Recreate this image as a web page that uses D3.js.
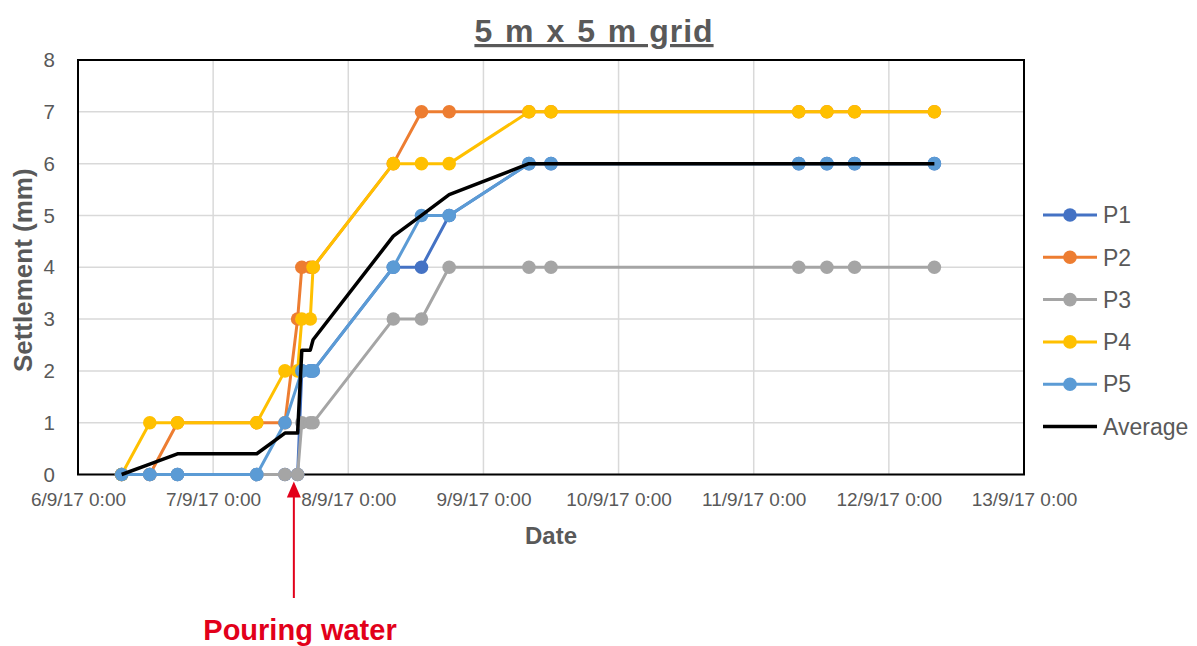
<!DOCTYPE html>
<html>
<head>
<meta charset="utf-8">
<script src="https://cdn.jsdelivr.net/npm/d3@7"></script>
<style>
  html, body { margin: 0; padding: 0; background: #fff; }
  svg { display: block; font-family: "Liberation Sans", Arial, sans-serif; }
</style>
</head>
<body>
<svg id="chart" width="1197" height="646"></svg>
<script>
// ---------- DATA ----------
const times = [
  "2017-09-06T07:45", "2017-09-06T12:45", "2017-09-06T17:40",
  "2017-09-07T07:45", "2017-09-07T12:45", "2017-09-07T15:00",
  "2017-09-07T15:45", "2017-09-07T17:15", "2017-09-07T17:45",
  "2017-09-08T08:00", "2017-09-08T13:00", "2017-09-08T17:55",
  "2017-09-09T08:05", "2017-09-09T12:00",
  "2017-09-11T08:00", "2017-09-11T13:00", "2017-09-11T17:55",
  "2017-09-12T08:05"
];
const P1 = [0, 0, 0, 0, 0, 0, 2, 2, 2, 4, 4, 5, 6, 6, 6, 6, 6, 6];
const P2 = [0, 0, 1, 1, 1, 3, 4, 4, 4, 6, 7, 7, 7, 7, 7, 7, 7, 7];
const P3 = [0, 0, 0, 0, 0, 0, 1, 1, 1, 3, 3, 4, 4, 4, 4, 4, 4, 4];
const P4 = [0, 1, 1, 1, 2, 2, 3, 3, 4, 6, 6, 6, 7, 7, 7, 7, 7, 7];
const P5 = [0, 0, 0, 0, 1, null, 2, 2, 2, 4, 5, 5, 6, 6, 6, 6, 6, 6];
const Average = [0, 0.2, 0.4, 0.4, 0.8, 0.8, 2.4, 2.4, 2.6, 4.6, 5.0, 5.4, 6, 6, 6, 6, 6, 6];

const seriesNames = ["P1", "P2", "P3", "P4", "P5", "Average"];
const xDomain = ["2017-09-06T00:00", "2017-09-13T00:00"];
const yTicks = [0, 1, 2, 3, 4, 5, 6, 7, 8];
const pouringTime = "2017-09-07T14:20";

const titleText = "5 m x 5 m grid";
const xTitle = "Date";
const yTitle = "Settlement (mm)";
const annotationText = "Pouring water";

// ---------- LAYOUT ----------
const colors = { P1: "#4472C4", P2: "#ED7D31", P3: "#A5A5A5", P4: "#FFC000", P5: "#5B9BD5", Average: "#000000" };
const plot = { left: 78, right: 1024, top: 60, bottom: 474.5 };
const textColor = "#595959";

const svg = d3.select("#chart");
const parse = d3.timeParse("%Y-%m-%dT%H:%M");
const tDates = times.map(parse);

const x = d3.scaleTime().domain(xDomain.map(parse)).range([plot.left, plot.right]);
const y = d3.scaleLinear().domain([0, 8]).range([plot.bottom, plot.top]);

// gridlines
const xTickDates = d3.timeDay.range(parse(xDomain[0]), d3.timeDay.offset(parse(xDomain[1]), 1));
svg.append("g").selectAll("line.h").data(yTicks).join("line")
  .attr("x1", plot.left).attr("x2", plot.right)
  .attr("y1", d => y(d)).attr("y2", d => y(d))
  .attr("stroke", "#D9D9D9").attr("stroke-width", 1.5);
svg.append("g").selectAll("line.v").data(xTickDates).join("line")
  .attr("x1", d => x(d)).attr("x2", d => x(d))
  .attr("y1", plot.top).attr("y2", plot.bottom)
  .attr("stroke", "#D9D9D9").attr("stroke-width", 1.5);

// axes (labels only, via d3 axis)
const fmt = d3.timeFormat("%-d/%-m/%y %-H:%M");
const xAxis = svg.append("g").attr("transform", `translate(0,${plot.bottom})`)
  .call(d3.axisBottom(x).tickValues(xTickDates).tickFormat(fmt).tickSize(0).tickPadding(0));
xAxis.select(".domain").remove();
xAxis.selectAll("text").attr("y", 31.5).attr("dy", 0)
  .attr("fill", textColor).style("font-size", "19px").style("font-family", "Liberation Sans, Arial, sans-serif");

const yAxis = svg.append("g").attr("transform", `translate(${plot.left},0)`)
  .call(d3.axisLeft(y).tickValues(yTicks).tickFormat(d3.format("d")).tickSize(0).tickPadding(23));
yAxis.select(".domain").remove();
yAxis.selectAll("text").attr("fill", textColor).style("font-size", "20.5px").style("font-family", "Liberation Sans, Arial, sans-serif");

// plot border
svg.append("rect").attr("x", plot.left).attr("y", plot.top)
  .attr("width", plot.right - plot.left).attr("height", plot.bottom - plot.top)
  .attr("fill", "none").attr("stroke", "#000").attr("stroke-width", 2);

// series
const seriesData = { P1, P2, P3, P4, P5, Average };
const line = d3.line().x(d => x(d.t)).y(d => y(d.v));
seriesNames.forEach(name => {
  const pts = seriesData[name].map((v, i) => ({ t: tDates[i], v })).filter(d => d.v !== null);
  const g = svg.append("g");
  g.append("path").datum(pts).attr("d", line)
    .attr("fill", "none").attr("stroke", colors[name])
    .attr("stroke-width", name === "Average" ? 3.5 : 3).attr("stroke-linejoin", "round");
  if (name !== "Average") {
    g.selectAll("circle").data(pts).join("circle")
      .attr("cx", d => x(d.t)).attr("cy", d => y(d.v)).attr("r", 6.8)
      .attr("fill", colors[name]);
  }
});

// legend
const legend = svg.append("g");
seriesNames.forEach((name, i) => {
  const ly = 215 + i * 42.3;
  legend.append("line").attr("x1", 1043).attr("x2", 1097).attr("y1", ly).attr("y2", ly)
    .attr("stroke", colors[name]).attr("stroke-width", name === "Average" ? 3.5 : 3);
  if (name !== "Average") {
    legend.append("circle").attr("cx", 1070).attr("cy", ly).attr("r", 6.8).attr("fill", colors[name]);
  }
  legend.append("text").attr("x", 1103).attr("y", ly).attr("dy", "0.36em")
    .attr("fill", textColor).style("font-size", "23px").text(name);
});

// titles
svg.append("text").attr("x", 594).attr("y", 42).attr("text-anchor", "middle")
  .attr("fill", textColor).style("font-size", "32px").style("font-weight", "bold")
  .style("text-decoration", "underline").style("letter-spacing", "1px").style("word-spacing", "2px")
  .text(titleText);
svg.append("text").attr("x", (plot.left + plot.right) / 2).attr("y", 544).attr("text-anchor", "middle")
  .attr("fill", textColor).style("font-size", "24px").style("font-weight", "bold").text(xTitle);
svg.append("text").attr("transform", `translate(32,${(plot.top + plot.bottom) / 2 + 3}) rotate(-90)`)
  .attr("text-anchor", "middle").attr("fill", textColor)
  .style("font-size", "26px").style("font-weight", "bold").text(yTitle);

// annotation arrow
const red = "#E2001A";
const ax = x(parse(pouringTime));
svg.append("line").attr("x1", ax).attr("x2", ax).attr("y1", 598).attr("y2", 494)
  .attr("stroke", red).attr("stroke-width", 2);
svg.append("path").attr("d", `M${ax},${plot.bottom + 7} L${ax - 7},${plot.bottom + 23} L${ax + 7},${plot.bottom + 23} Z`)
  .attr("fill", red);
svg.append("text").attr("x", 300).attr("y", 640).attr("text-anchor", "middle")
  .attr("fill", red).style("font-size", "29px").style("font-weight", "bold").text(annotationText);
</script>
</body>
</html>
